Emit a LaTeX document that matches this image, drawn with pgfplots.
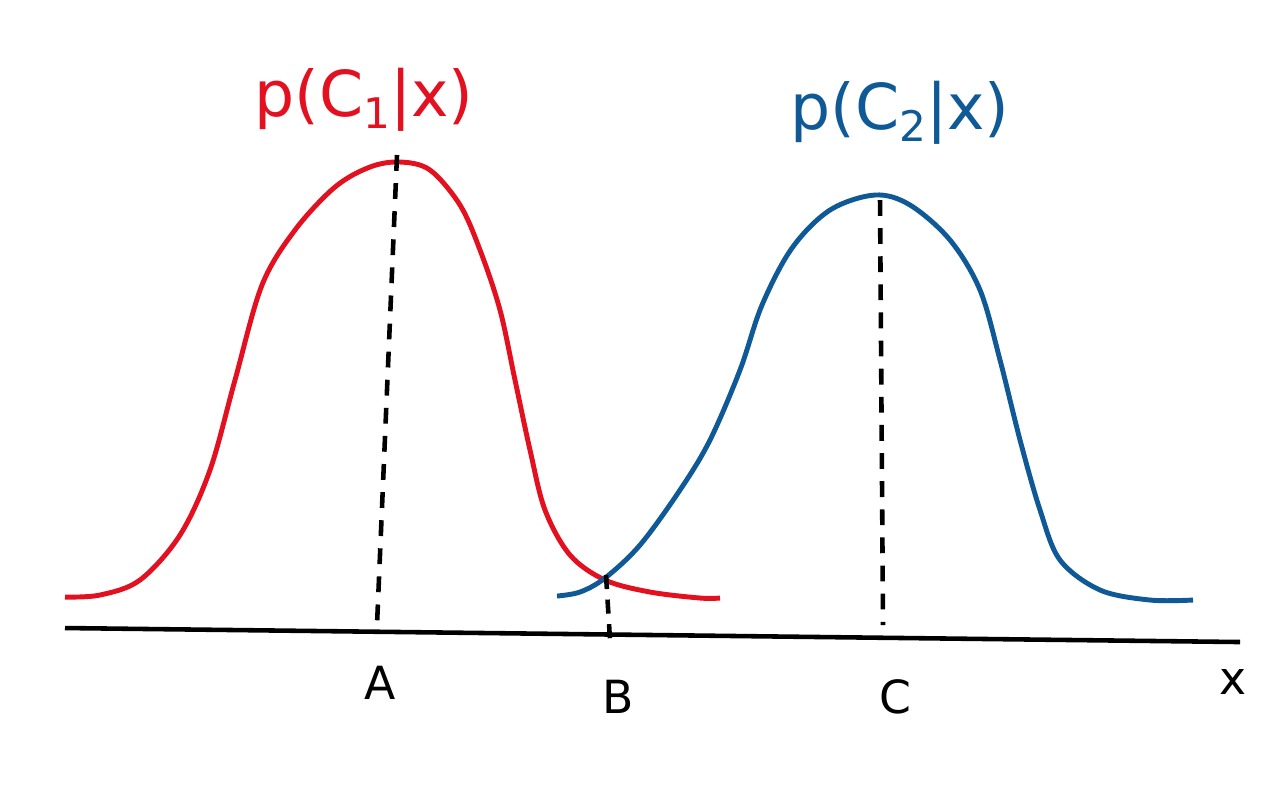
\documentclass[border=0pt]{standalone}
\usepackage{pgfplots}
\pgfplotsset{compat=1.18}
\usepackage{fontspec}
\setmainfont{DejaVu Sans}
\definecolor{cred}{HTML}{E3101F}
\definecolor{cblue}{HTML}{0F5A96}
\newcommand{\sub}[1]{\raisebox{-0.35ex}{\fontsize{12}{12}\selectfont #1}}
\begin{document}
\begin{tikzpicture}
\begin{axis}[
  scale only axis, width=12.8cm, height=7.92cm,
  xmin=0, xmax=1280, ymin=0, ymax=792, y dir=reverse,
  hide axis, clip=false]
\path (axis cs:0,0) rectangle (axis cs:1280,792);
% red curve
\addplot[cred, line width=1.4pt, smooth, tension=0.55] coordinates {
(65,597) (100,595) (140,580) (180,535) (210,470) (235,380) (262,285) (295,230) (335,187) (370,167) (400,162) (430,170) (460,205) (480,250) (500,310) (515,380) (530,450) (545,510) (570,555) (605,580) (650,592) (700,598) (720,598)};
% blue curve
\addplot[cblue, line width=1.4pt, smooth, tension=0.55] coordinates {
(557,596) (580,592) (605,578) (640,545) (680,490) (710,440) (740,370) (762,305) (792,248) (830,210) (875,195) (910,205) (950,240) (980,290) (1000,360) (1020,440) (1040,510) (1060,560) (1100,590) (1150,600) (1193,600)};
% dashed lines
\addplot[black, line width=1.3pt, dash pattern=on 4.5pt off 3.5pt] coordinates {(397,155) (377,625)};
\addplot[black, line width=1.3pt, dash pattern=on 4.5pt off 3.5pt] coordinates {(880,200) (883,625)};
\addplot[black, line width=1.3pt, dash pattern=on 4pt off 3pt] coordinates {(606,575) (610,640)};
% x axis
\addplot[black, line width=1.3pt] coordinates {(65,628) (1240,642)};
% labels
\node[cred, font=\fontsize{18}{20}\selectfont] at (axis cs:364,100) {p(C\sub{1}|x)};
\node[cblue, font=\fontsize{18}{20}\selectfont] at (axis cs:900,113) {p(C\sub{2}|x)};
\node[font=\fontsize{13}{15}\selectfont] at (axis cs:380,683) {A};
\node[font=\fontsize{13}{15}\selectfont] at (axis cs:618,697) {B};
\node[font=\fontsize{13}{15}\selectfont] at (axis cs:895,697) {C};
\node[font=\fontsize{13}{15}\selectfont] at (axis cs:1233,682) {x};
\end{axis}
\end{tikzpicture}
\end{document}
